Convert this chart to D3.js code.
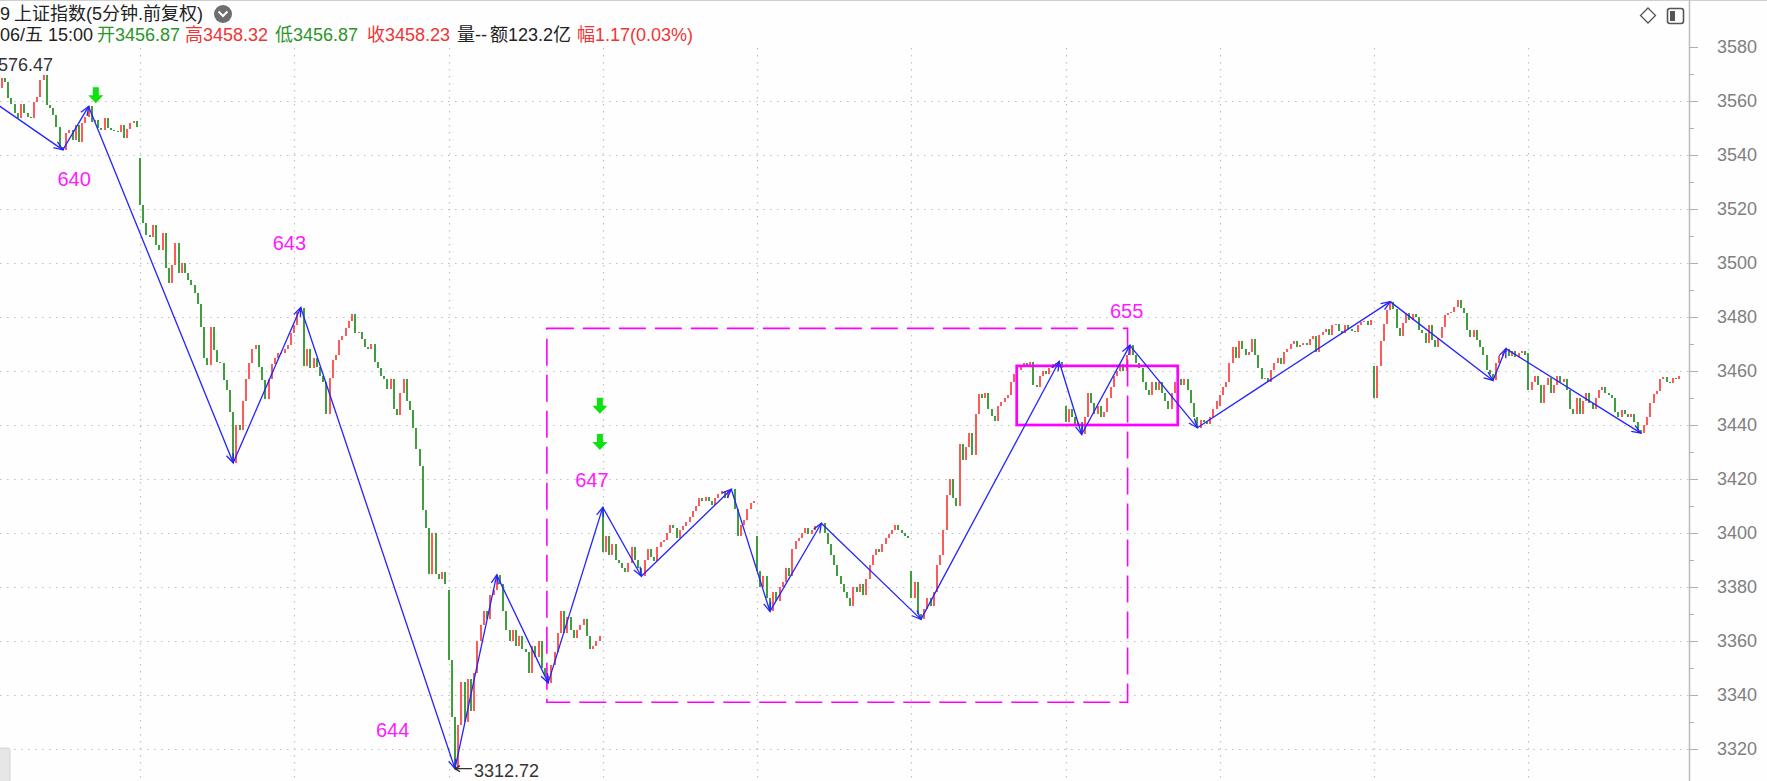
<!DOCTYPE html>
<html><head><meta charset="utf-8">
<script src="https://cdn.jsdelivr.net/npm/d3@7"></script>
<style>
html,body{margin:0;padding:0;background:#fefefe;overflow:hidden}
svg{display:block}
</style></head><body>
<svg id="chart" width="1767" height="781"></svg>
<script>
// ---------- DATA ----------
// closes of each trading day's 5-minute bars (day0 is partially visible)
const day0 = [3565,3568.4,3567,3561,3559,3555.4,3553.6,3559,3555.4,3554.2,3553.6,3559.8,3561.6,3567.8,3569.5,3558.5,3557.5,3554.8,3550.5,3543,3541.9,3548,3549.3,3545.6,3551,3545,3552,3554,3558,3552.3,3553,3550,3549.3,3553.6,3549.9,3549.3,3549,3548.6,3551,3546.2,3549.5,3551.7,3552.5,3550.5];
const day1 = [3521.5,3514.7,3510.4,3509.8,3514,3506.7,3504.8,3511,3498,3492.5,3499.2,3507.3,3496.2,3500,3496.2,3493.7,3491.9,3488.8,3485,3476.4,3464.7,3462.2,3476.4,3467.8,3463.5,3462.8,3456.7,3453,3445,3426,3440,3438,3449,3457,3463,3468,3469.5,3461.5,3456.5,3449.5,3457,3462.5,3465,3466.5,3466.8,3468,3469.5,3474];
const day2 = [3477,3482,3483.5,3462,3468,3461,3465,3461.5,3458,3456,3444,3457.5,3464,3466,3471.5,3473,3476,3478.5,3481,3474,3474.5,3472,3469,3468,3470,3463.5,3461,3458,3457,3453.5,3457,3446,3443.7,3452,3457,3449,3445.6,3439,3431,3425,3408.5,3402,3385,3400,3385,3383,3385.5,3381];
const day3 = [3353,3332,3312.72,3329,3345,3330,3346,3334,3348,3360,3366,3371,3368,3377,3379,3384.5,3381,3371,3364,3360,3364,3358,3362,3357,3356,3348,3358,3354,3360,3350,3347,3344.5,3351,3356,3363,3371,3363,3369,3364,3361,3364,3366,3368,3362,3357,3358,3360,3362];
const day4 = [3393,3399,3392,3396,3390,3389,3387,3385.5,3389,3395,3390,3387,3384,3390,3394,3391,3389.5,3395,3396.5,3397.5,3400,3403,3402,3398,3401,3402.5,3404,3406,3408,3410,3413,3412,3413.5,3412,3410.5,3413,3414.5,3415.5,3413,3416,3416.2,3409,3399,3403,3405,3409,3411,3412];
const day5 = [3386,3380,3384,3376,3371,3378,3375,3380,3382,3387,3384,3394,3397,3398,3400,3402,3399.5,3401,3402.5,3403,3403.6,3400,3396,3392,3388,3384,3381,3378,3376,3373,3380,3378,3381,3377,3383,3388,3392,3394,3393,3396,3398,3399.5,3401,3403,3401,3400,3399,3398];
const day6 = [3376,3382,3370,3368,3372,3376,3373,3378,3388,3392,3401,3414,3420,3413,3410,3433,3427,3432,3437,3429,3444,3451.5,3450,3452,3446,3443.5,3441.5,3447,3448.5,3450,3451,3456,3459,3460.5,3461.5,3463,3462,3463.5,3455,3454,3458,3460,3459,3461,3462.5,3463,3463.5,3461];
const day7 = [3441,3446,3443,3440,3441,3436.5,3443,3452,3448,3444,3447,3443,3445,3450,3454,3458,3460,3462.5,3460,3466,3469.5,3466,3463,3461,3456,3453,3451,3456,3453,3456,3452,3449,3446,3452,3456,3457,3455,3457,3453,3448,3443,3439,3442,3441,3440.5,3443,3446,3449];
const day8 = [3451,3454,3456,3463,3469,3465,3471,3468,3466,3467,3472,3466,3461,3457,3457.5,3456,3460.5,3463,3465,3462.5,3467,3468,3470,3471,3469,3469.5,3470.5,3469.5,3472,3473,3467,3473.5,3474.5,3475.5,3473.5,3477,3477.5,3475,3474,3477,3475.5,3475,3474.5,3477,3478,3478.5,3477,3479];
const day9 = [3450,3462,3471,3477.5,3482.5,3485.7,3483,3476,3473,3477.6,3481.3,3478.9,3481,3480,3475.2,3474,3470.2,3477,3471.5,3469,3472.1,3476.4,3480.7,3481.3,3482,3483.8,3486.3,3483.2,3481.3,3475.2,3472.7,3475.2,3471.5,3469,3465.9,3460.4,3459,3456.5,3463,3465.5,3467,3468.3,3465.5,3467.5,3465.3,3466.5,3467.3,3466];
const day10 = [3453,3456,3458,3455,3448,3455,3457.5,3452,3455,3458,3456,3457,3453,3446,3444,3450,3444,3449,3452,3448,3446,3450,3453,3454,3452,3451,3450,3445,3443,3445.5,3444,3443,3444,3441,3438,3437,3440,3443,3448,3451.5,3452.5,3457,3457.8,3456,3455.5,3457.5,3456.87,3458.23];
// opening price of the first bar of each day
const dayOpens = [3561,3538.8,3474,3379,3409.5,3399,3386,3447,3447,3462,3466.5];

// zigzag (wave) vertices: bar index and price
const zzIndex = [-22,20,28,73,94,142,155,171,188,200,228,240,256,287,330,337,352,373,433,465,469,511];
const zzPrice = [3576.47,3541.9,3558,3426,3483.5,3312.72,3384.5,3344.5,3409.5,3384,3416.2,3371,3403.6,3368,3463.5,3436.5,3469.5,3439,3485.7,3456.5,3468.3,3437];

// magenta wave labels
const waveLabels = ["640","643","644","647","655"];
const waveLabelIndex = [18.3,85.3,117.4,179.4,345.8];
const waveLabelPrice = [3528.5,3504.8,3324.4,3417,3479.6];

// green down-arrow signals
const signalIndex = [30.25,187.1,187.1];
const signalPrice = [3565.1,3450.1,3436.7];

// boxes [startIndex, endIndex, topPrice, bottomPrice]
const dashedBox = [170.6,351.3,3475.8,3337.3];
const solidBox = [316.8,366.9,3461.9,3440];

// extreme price labels
const highLabel = {text:"3576.47", index:16.93, price:3571.1};
const lowLabel = {text:"3312.72", index:142, price:3312.72};

// axis ticks
const axisTicks = [3320,3340,3360,3380,3400,3420,3440,3460,3480,3500,3520,3540,3560,3580];
const minorTicks = [3330,3350,3370,3390,3410,3430,3450,3470,3490,3510,3530,3550,3570];
const gridPrices = [3320,3340,3360,3380,3400,3420,3440,3460,3480,3500,3520,3540,3560];

// header
const titleCode = "9";
const titleName = "上证指数(5分钟.前复权)";
const infoParts = [
  {t:"06/五 15:00", c:"#222", at:0},
  {t:"开3456.87", c:"#2a962a", at:97},
  {t:"高3458.32", c:"#ef3535", at:185},
  {t:"低3456.87", c:"#2a962a", at:275},
  {t:"收3458.23", c:"#ef3535", at:367},
  {t:"量--", c:"#222", at:457},
  {t:"额123.2亿", c:"#222", at:490},
  {t:"幅1.17(0.03%)", c:"#ef3535", at:577}
];

// ---------- BUILD ----------
const days = [day0,day1,day2,day3,day4,day5,day6,day7,day8,day9,day10];
const candles = [];
const dayStarts = [];
let idx = 0;
days.forEach((arr,d)=>{
  if(d>0) dayStarts.push(idx);
  arr.forEach((c,j)=>{
    const o = j===0 ? dayOpens[d] : arr[j-1];
    candles.push({i:idx++, o:o, c:c});
  });
});

const W=1767,H=781, AX=1689;
const FONT = "'Liberation Sans', Arial, 'Noto Sans CJK SC', sans-serif";
const svg = d3.select('#chart');
svg.append('rect').attr('width',W).attr('height',H).attr('fill','#fefefe');

const x = d3.scaleLinear().domain([0,524]).range([-1.4,1682.6]);
const y = d3.scaleLinear().domain([3320,3580]).range([749,47]);

const defs = svg.append('defs');
defs.append('clipPath').attr('id','plot').append('rect').attr('x',0).attr('y',0).attr('width',AX).attr('height',H);
defs.append('marker').attr('id','ah').attr('viewBox','-10 -6 12 12')
  .attr('refX',0).attr('refY',0).attr('markerWidth',12).attr('markerHeight',12)
  .attr('markerUnits','userSpaceOnUse').attr('orient','auto')
  .append('path').attr('d','M-9,-3.6L0,0L-9,3.6').attr('fill','none')
  .attr('stroke','#2323ff').attr('stroke-width',1.3);

// top border
svg.append('line').attr('x1',0).attr('x2',W).attr('y1',0.5).attr('y2',0.5).attr('stroke','#cfcfcf');

const plot = svg.append('g').attr('clip-path','url(#plot)');

// grid
plot.selectAll('.hg').data(gridPrices).enter().append('line')
  .attr('x1',0).attr('x2',AX).attr('y1',d=>Math.round(y(d))+0.5).attr('y2',d=>Math.round(y(d))+0.5)
  .attr('stroke','#c2c2c2').attr('stroke-width',1.2).attr('stroke-dasharray','1.6,5.4');
plot.selectAll('.vg').data(dayStarts).enter().append('line')
  .attr('x1',d=>Math.round(x(d))+0.5).attr('x2',d=>Math.round(x(d))+0.5).attr('y1',48).attr('y2',H)
  .attr('stroke','#c2c2c2').attr('stroke-width',1.2).attr('stroke-dasharray','1.6,5.4');

// candles
plot.selectAll('.cd').data(candles).enter().append('rect')
  .attr('x',d=>Math.round(x(d.i))-1).attr('width',2)
  .attr('y',d=>y(Math.max(d.o,d.c)))
  .attr('height',d=>Math.max(1.2,Math.abs(y(d.o)-y(d.c))))
  .attr('fill',d=>d.c>=d.o?'#ff5a5a':'#3f9f3f')
  .attr('shape-rendering','crispEdges');

// dashed box
plot.append('rect')
  .attr('x',x(dashedBox[0])).attr('y',y(dashedBox[2]))
  .attr('width',x(dashedBox[1])-x(dashedBox[0])).attr('height',y(dashedBox[3])-y(dashedBox[2]))
  .attr('fill','none').attr('stroke','#ff00ff').attr('stroke-width',1.6).attr('stroke-dasharray','27,9');
// solid box
plot.append('rect')
  .attr('x',x(solidBox[0])).attr('y',y(solidBox[2]))
  .attr('width',x(solidBox[1])-x(solidBox[0])).attr('height',y(solidBox[3])-y(solidBox[2]))
  .attr('fill','none').attr('stroke','#ff00ff').attr('stroke-width',2.7);

// zigzag segments with arrowheads
const segs = d3.range(1,zzIndex.length).map(k=>({a:k-1,b:k}));
plot.selectAll('.zz').data(segs).enter().append('line')
  .attr('x1',d=>x(zzIndex[d.a])).attr('y1',d=>y(zzPrice[d.a]))
  .attr('x2',d=>x(zzIndex[d.b])).attr('y2',d=>y(zzPrice[d.b]))
  .attr('stroke','#2323ff').attr('stroke-width',1.3).attr('marker-end','url(#ah)');

// green arrows
plot.selectAll('.sig').data(signalIndex.map((v,k)=>({i:v,p:signalPrice[k]}))).enter().append('path')
  .attr('d',d=>{const cx=x(d.i), ty=y(d.p);
    return `M${cx-3},${ty}L${cx+3},${ty}L${cx+3},${ty+8}L${cx+7.5},${ty+8}L${cx},${ty+16}L${cx-7.5},${ty+8}L${cx-3},${ty+8}Z`;})
  .attr('fill','#0fe00f');

// wave labels
plot.selectAll('.wl').data(waveLabels.map((t,k)=>({t,i:waveLabelIndex[k],p:waveLabelPrice[k]}))).enter().append('text')
  .attr('x',d=>x(d.i)).attr('y',d=>y(d.p)).text(d=>d.t)
  .attr('fill','#ff1aff').attr('font-size',20).attr('font-family',FONT);

// extreme labels (high label is partly cut by the left edge, as in the original)
plot.append('text').attr('x',x(highLabel.index)).attr('y',y(highLabel.price))
  .attr('text-anchor','end').attr('font-size',18).attr('font-family',FONT).attr('fill','#333').text(highLabel.text);
const lx = x(lowLabel.index), ly = y(lowLabel.price);
plot.append('path').attr('d',`M${lx},${ly}L${lx+17},${ly}M${lx+5},${ly-3}L${lx},${ly}L${lx+5},${ly+3}`)
  .attr('stroke','#333').attr('stroke-width',1.3).attr('fill','none');
plot.append('text').attr('x',lx+19).attr('y',ly+8.5)
  .attr('font-size',18).attr('font-family',FONT).attr('fill','#333').text(lowLabel.text);

// right axis
svg.append('line').attr('x1',AX+0.5).attr('x2',AX+0.5).attr('y1',0).attr('y2',H).attr('stroke','#bdbdbd').attr('stroke-width',1.5);
const gA = svg.append('g').attr('transform',`translate(${AX},0)`)
  .call(d3.axisRight(y).tickValues(axisTicks).tickSize(9).tickPadding(19).tickFormat(d=>d));
gA.select('.domain').remove();
gA.selectAll('line').attr('stroke','#b0b0b0');
gA.selectAll('text').attr('fill','#808080').attr('font-size',18).attr('font-family',FONT);
const gM = svg.append('g').attr('transform',`translate(${AX},0)`)
  .call(d3.axisRight(y).tickValues(minorTicks).tickSize(5).tickFormat(''));
gM.select('.domain').remove();
gM.selectAll('line').attr('stroke','#b0b0b0');

// header
const h1 = svg.append('text').attr('y',20).attr('font-family',FONT).attr('font-size',18).attr('fill','#222');
h1.append('tspan').attr('x',0).text(titleCode);
h1.append('tspan').attr('x',14).text(titleName);
svg.append('circle').attr('cx',223).attr('cy',14).attr('r',9).attr('fill','#6e6e6e');
svg.append('path').attr('d','M218.5,11.5L223,16L227.5,11.5').attr('stroke','#fff').attr('stroke-width',2).attr('fill','none');
const h2 = svg.append('text').attr('y',41).attr('font-family',FONT).attr('font-size',18);
infoParts.forEach(p=>h2.append('tspan').attr('x',p.at).attr('fill',p.c).text(p.t));

// top-right icons
svg.append('path').attr('d','M1648,8L1655.5,15.5L1648,23L1640.5,15.5Z').attr('fill','none').attr('stroke','#555').attr('stroke-width',1.3);
svg.append('rect').attr('x',1667.5).attr('y',8.5).attr('width',16).attr('height',15).attr('rx',2.5).attr('fill','none').attr('stroke','#555').attr('stroke-width',1.6);
svg.append('rect').attr('x',1670).attr('y',11).attr('width',5).attr('height',10).attr('fill','#555');

// bottom-left small tab
svg.append('rect').attr('x',-3).attr('y',748).attr('width',13).attr('height',36).attr('rx',2).attr('fill','#e6e6e6').attr('stroke','#d4d4d4');
</script>
</body></html>
